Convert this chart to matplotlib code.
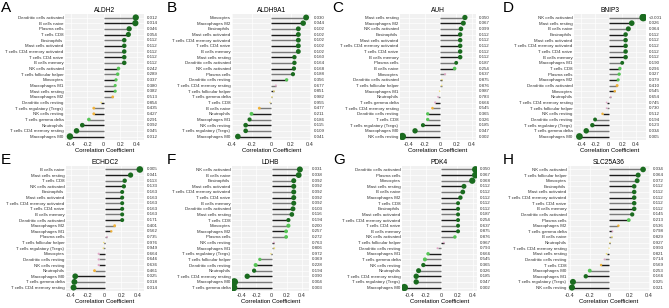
import numpy as np
import matplotlib
matplotlib.use("Agg")
import matplotlib.pyplot as plt
from matplotlib.transforms import blended_transform_factory

plt.rcParams['font.family'] = ['Liberation Sans', 'DejaVu Sans']

# ---- data ----
aldh2_cells = ["Dendritic cells activated", "B cells naive", "Plasma cells", "T cells CD8",
               "Eosinophils", "Mast cells activated", "T cells CD4 memory activated",
               "T cells CD4 naive", "B cells memory", "NK cells activated",
               "T cells follicular helper", "Monocytes", "Macrophages M1", "Mast cells resting",
               "Macrophages M2", "Dendritic cells resting", "T cells regulatory (Tregs)",
               "NK cells resting", "T cells gamma delta", "Neutrophils",
               "T cells CD4 memory resting", "Macrophages M0"]
aldh2_r = [0.39, 0.385, 0.31, 0.30, 0.25, 0.25, 0.25, 0.25, 0.25, 0.18, 0.17, 0.15, 0.14, 0.14,
           0.11, -0.03, -0.12, -0.12, -0.18, -0.26, -0.33, -0.41]
aldh2_p = ["0.012", "0.014", "0.046", "0.054", "0.112", "0.112", "0.112", "0.112", "0.112",
           "0.242", "0.289", "0.337", "0.380", "0.382", "0.513", "0.854", "0.435", "0.427",
           "0.291", "0.092", "0.045", "0.012"]

aldh9a1_cells = ["Monocytes", "Macrophages M2", "Eosinophils", "Mast cells activated",
                 "T cells CD4 memory activated", "T cells CD4 naive", "B cells memory",
                 "Mast cells resting", "Dendritic cells activated", "NK cells activated",
                 "Plasma cells", "Dendritic cells resting", "T cells CD4 memory resting",
                 "T cells follicular helper", "T cells gamma delta", "T cells CD8",
                 "B cells naive", "Neutrophils", "Macrophages M1", "NK cells resting",
                 "T cells regulatory (Tregs)", "Macrophages M0"]
aldh9a1_r = [0.36, 0.33, 0.28, 0.28, 0.28, 0.28, 0.28, 0.24, 0.24, 0.235, 0.225, 0.16, 0.05,
             0.03, 0.01, -0.01, -0.12, -0.20, -0.22, -0.26, -0.26, -0.34]
aldh9a1_p = ["0.030", "0.044", "0.102", "0.102", "0.102", "0.102", "0.102", "0.160", "0.164",
             "0.168", "0.188", "0.356", "0.677", "0.851", "0.982", "0.955", "0.477", "0.211",
             "0.186", "0.115", "0.109", "0.041"]

auh_cells = ["Mast cells resting", "Macrophages M2", "NK cells activated", "Eosinophils",
             "Mast cells activated", "T cells CD4 memory activated", "T cells CD4 naive",
             "B cells memory", "Plasma cells", "B cells naive", "Monocytes",
             "Dendritic cells activated", "T cells follicular helper", "Macrophages M1",
             "Neutrophils", "T cells gamma delta", "T cells CD4 memory resting",
             "Dendritic cells resting", "T cells CD8", "T cells regulatory (Tregs)",
             "Macrophages M0", "NK cells resting"]
auh_r = [0.31, 0.29, 0.26, 0.25, 0.25, 0.25, 0.25, 0.25, 0.20, 0.18, 0.06, 0.02, 0.015, -0.01,
         -0.03, -0.065, -0.10, -0.16, -0.16, -0.22, -0.32, -0.48]
auh_p = ["0.050", "0.067", "0.099", "0.112", "0.112", "0.112", "0.112", "0.112", "0.187",
         "0.254", "0.637", "0.875", "0.876", "0.987", "0.783", "0.666", "0.545", "0.365",
         "0.326", "0.185", "0.047", "0.002"]

bnip3_cells = ["NK cells activated", "Mast cells resting", "B cells naive", "Eosinophils",
               "Mast cells activated", "T cells CD4 memory activated", "T cells CD4 naive",
               "B cells memory", "Macrophages M1", "T cells CD8", "Plasma cells",
               "Macrophages M2", "Dendritic cells activated", "Monocytes", "Neutrophils",
               "T cells CD4 memory resting", "T cells follicular helper", "NK cells resting",
               "Dendritic cells resting", "T cells regulatory (Tregs)", "T cells gamma delta",
               "Macrophages M0"]
bnip3_r = [0.51, 0.34, 0.29, 0.25, 0.25, 0.25, 0.25, 0.25, 0.20, 0.165, 0.155, 0.14, 0.125,
           0.09, 0.03, -0.03, -0.03, -0.09, -0.20, -0.24, -0.33, -0.43]
bnip3_p = ["<0.001", "0.026", "0.064", "0.112", "0.112", "0.112", "0.112", "0.112", "0.190",
           "0.296", "0.327", "0.379", "0.410", "0.545", "0.654", "0.745", "0.730", "0.512",
           "0.194", "0.123", "0.034", "0.005"]

echdc2_cells = ["B cells naive", "Mast cells resting", "T cells CD8", "NK cells activated",
                "Eosinophils", "Mast cells activated", "T cells CD4 memory activated",
                "T cells CD4 naive", "B cells memory", "Dendritic cells activated",
                "Macrophages M2", "Macrophages M1", "Plasma cells", "T cells follicular helper",
                "T cells regulatory (Tregs)", "Monocytes", "Dendritic cells resting",
                "NK cells resting", "Neutrophils", "Macrophages M0", "T cells gamma delta",
                "T cells CD4 memory resting"]
echdc2_r = [0.42, 0.31, 0.24, 0.23, 0.21, 0.21, 0.21, 0.21, 0.21, 0.21, 0.12, 0.08, 0.03,
            -0.01, -0.015, -0.07, -0.07, -0.07, -0.12, -0.35, -0.36, -0.37]
echdc2_p = ["0.005", "0.041", "0.113", "0.133", "0.163", "0.163", "0.163", "0.163", "0.163",
            "0.171", "0.401", "0.562", "0.735", "0.976", "0.949", "0.664", "0.646", "0.636",
            "0.461", "0.025", "0.018", "0.014"]

ldhb_cells = ["NK cells activated", "B cells naive", "Eosinophils", "Mast cells activated",
              "T cells CD4 memory activated", "T cells CD4 naive", "B cells memory",
              "Dendritic cells activated", "Mast cells resting", "T cells CD8", "Monocytes",
              "Macrophages M2", "Plasma cells", "NK cells resting", "Macrophages M1",
              "T cells regulatory (Tregs)", "T cells follicular helper",
              "Dendritic cells resting", "Neutrophils", "T cells CD4 memory resting",
              "Macrophages M0", "T cells gamma delta"]
ldhb_r = [0.37, 0.355, 0.29, 0.29, 0.29, 0.29, 0.29, 0.28, 0.265, 0.22, 0.22, 0.19, 0.19,
          0.03, 0.035, -0.01, -0.155, -0.21, -0.23, -0.32, -0.49, -0.50]
ldhb_p = ["0.031", "0.038", "0.092", "0.092", "0.092", "0.092", "0.092", "0.103", "0.116",
          "0.194", "0.200", "0.257", "0.272", "0.763", "0.806", "0.972", "0.369", "0.228",
          "0.194", "0.090", "0.004", "0.003"]

pdk4_cells = ["Dendritic cells activated", "Plasma cells", "Monocytes", "Mast cells resting",
              "B cells naive", "Macrophages M2", "T cells CD8", "Eosinophils",
              "Mast cells activated", "T cells CD4 memory activated", "T cells CD4 naive",
              "B cells memory", "NK cells activated", "T cells follicular helper",
              "Dendritic cells resting", "Macrophages M1", "T cells gamma delta",
              "NK cells resting", "Neutrophils", "T cells CD4 memory resting",
              "T cells regulatory (Tregs)", "Macrophages M0"]
pdk4_r = [0.43, 0.43, 0.39, 0.285, 0.27, 0.24, 0.21, 0.21, 0.21, 0.21, 0.21, 0.21, 0.17, 0.03,
          -0.05, -0.17, -0.21, -0.23, -0.29, -0.32, -0.32, -0.47]
pdk4_p = ["0.050", "0.067", "0.068", "0.112", "0.112", "0.112", "0.112", "0.112", "0.187",
          "0.254", "0.637", "0.875", "0.876", "0.967", "0.793", "0.666", "0.545", "0.365",
          "0.326", "0.185", "0.047", "0.002"]
# point colour classes seen in panel G (its p column does not match the dots)
pdk4_cls = [0, 0, 0, 0, 0, 0, 0, 0, 0, 0, 0, 0, 1, 3, 3, 1, 1, 0, 0, 0, 0, 0]

slc25a36_cells = ["NK cells activated", "T cells follicular helper", "Monocytes", "Eosinophils",
                  "Mast cells activated", "T cells CD4 memory activated", "T cells CD4 naive",
                  "B cells memory", "Dendritic cells activated", "Plasma cells",
                  "Macrophages M2", "T cells gamma delta", "B cells naive", "Neutrophils",
                  "T cells CD4 memory resting", "Mast cells resting", "Dendritic cells resting",
                  "T cells CD8", "Macrophages M0", "Macrophages M1",
                  "T cells regulatory (Tregs)", "NK cells resting"]
slc25a36_r = [0.34, 0.29, 0.28, 0.25, 0.25, 0.25, 0.25, 0.25, 0.23, 0.195, 0.09, 0.03, 0.025,
              0.005, -0.005, -0.03, -0.05, -0.085, -0.20, -0.24, -0.37, -0.38]
slc25a36_p = ["0.034", "0.064", "0.072", "0.112", "0.112", "0.112", "0.112", "0.112", "0.145",
              "0.213", "0.536", "0.798", "0.829", "0.927", "0.993", "0.821", "0.714", "0.569",
              "0.253", "0.166", "0.025", "0.021"]

# ---- layout (pixel boxes: left, top, right, bottom) ----
W, H = 669, 308
TOP = (14.1, 139.9)
BOT = (166.1, 290.9)
panels = [
    ("A", "ALDH2", aldh2_cells, aldh2_r, aldh2_p, None, (65, 144), TOP, (-0.47, 0.49), 1),
    ("B", "ALDH9A1", aldh9a1_cells, aldh9a1_r, aldh9a1_p, None, (232, 311), TOP, (-0.40, 0.41), 167),
    ("C", "AUH", auh_cells, auh_r, auh_p, None, (400, 476), TOP, (-0.51, 0.45), 332),
    ("D", "BNIP3", bnip3_cells, bnip3_r, bnip3_p, None, (574, 646), TOP, (-0.51, 0.55), 503),
    ("E", "ECHDC2", echdc2_cells, echdc2_r, echdc2_p, None, (66, 144), BOT, (-0.46, 0.47), 1),
    ("F", "LDHB", ldhb_cells, ldhb_r, ldhb_p, None, (232, 309), BOT, (-0.52, 0.49), 167),
    ("G", "PDK4", pdk4_cells, pdk4_r, pdk4_p, pdk4_cls, (402, 477), BOT, (-0.50, 0.45), 333),
    ("H", "SLC25A36", slc25a36_cells, slc25a36_r, slc25a36_p, None, (568, 650), BOT, (-0.42, 0.41), 503),
]

dot_colors = ["#1a6b1f", "#56c456", "#f0b23a", "#e2a9c9", "#f1e07a"]
line_colors = ["#7a7a7a", "#1c1c1c"]


def p_class(label):
    p = 0.0 if label.startswith("<") else float(label)
    return min(int(p / 0.2), 4)


fig = plt.figure(figsize=(W / 100, H / 100), dpi=100)

for letter, gene, cells, r, pl, cls, (x0, x1), (y0, y1), xlim, lx in panels:
    ax = fig.add_axes([x0 / W, 1 - y1 / H, (x1 - x0) / W, (y1 - y0) / H])
    n = len(cells)
    y = np.arange(n)[::-1]
    r = np.asarray(r)
    if cls is None:
        cls = [p_class(s) for s in pl]
    ax.set_facecolor("#f1f1f1")
    for i in range(n):
        ax.plot([0, r[i]], [y[i], y[i]], color=line_colors[i % 2], lw=1.0,
                solid_capstyle="butt", zorder=2)
    sizes = (1.0 + 9.0 * np.abs(r)) ** 2
    ax.scatter(r, y, s=sizes, c=[dot_colors[c] for c in cls], lw=0, zorder=3)
    ax.set_xlim(*xlim)
    ax.set_ylim(-0.6, n - 0.4)
    ax.set_yticks(y)
    ax.set_yticklabels(cells, fontsize=3.2, color="#333333")
    ax.set_xticks([-0.4, -0.2, 0, 0.2, 0.4])
    ax.set_xticklabels(["-0.4", "-0.2", "0", "0.2", "0.4"], fontsize=4.0, color="#333333")
    ax.tick_params(length=0, pad=1.2)
    ax.grid(True, color="white", lw=0.5, zorder=0)
    ax.set_axisbelow(True)
    for s in ax.spines.values():
        s.set_visible(False)
    ax.set_xlabel("Correlation Coefficient", fontsize=4.3, labelpad=1.2)
    ax.set_title(gene, fontsize=4.8, pad=1.5)
    tr = blended_transform_factory(ax.transAxes, ax.transData)
    for i in range(n):
        ax.text(1.04, y[i], pl[i], transform=tr, fontsize=3.2, va="center", ha="left",
                color="#333333")
    fig.text(lx / W, 1 - (y0 - 13) / H, letter, fontsize=11, va="top", ha="left")

fig.savefig("out.png", dpi=100)
